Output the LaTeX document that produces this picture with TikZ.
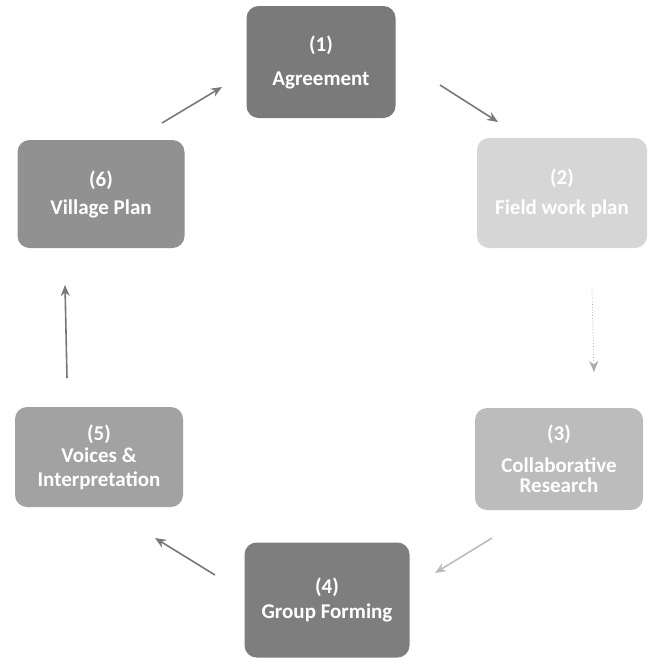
\documentclass[tikz,border=0pt]{standalone}
\usepackage{fontspec}
\setmainfont{Carlito}
\usetikzlibrary{arrows.meta}
\definecolor{gA}{RGB}{122,122,122}
\definecolor{gB}{RGB}{214,214,214}
\definecolor{gC}{RGB}{188,188,188}
\definecolor{gD}{RGB}{126,126,126}
\definecolor{gE}{RGB}{162,162,162}
\definecolor{gF}{RGB}{145,145,145}
\definecolor{arr}{RGB}{120,120,120}
\tikzset{
  stepbox/.style={rounded corners=12pt, inner sep=0pt, align=center,
    text=white, font=\bfseries\fontsize{21}{22}\selectfont},
  cyc/.style={draw=arr, line width=1.6pt, -{Stealth[length=11pt,width=9pt]}},
}
\begin{document}
\begin{tikzpicture}[x=1pt,y=-1pt]
\useasboundingbox (0,0) rectangle (652,667);
\node[stepbox, fill=gA, minimum width=149pt, minimum height=112pt] (n1) at (321,62) {(1)\\[12pt]Agreement};
\node[stepbox, fill=gB, minimum width=170pt, minimum height=110pt] (n2) at (562,193) {(2)\\[8pt]Field work plan};
\node[stepbox, fill=gC, minimum width=168pt, minimum height=102pt] (n3) at (559,459) {(3)\\[10pt]Collaborative\\[-2pt]Research};
\node[stepbox, fill=gD, minimum width=165pt, minimum height=115pt] (n4) at (327,600) {(4)\\[3pt]Group Forming};
\node[stepbox, fill=gE, minimum width=168pt, minimum height=100pt] (n5) at (99,457) {(5)\\Voices \&\\[2pt]Interpretation};
\node[stepbox, fill=gF, minimum width=167pt, minimum height=108pt] (n6) at (101,194) {(6)\\[6pt]Village Plan};
\coordinate (a1s) at (440,85); \coordinate (a1e) at (498,122);
\coordinate (a2s) at (592,290); \coordinate (a2e) at (594,372);
\coordinate (a3s) at (492,538); \coordinate (a3e) at (435,573);
\coordinate (a4s) at (215,575); \coordinate (a4e) at (155,538);
\coordinate (a5s) at (67,378); \coordinate (a5e) at (65,285);
\coordinate (a6s) at (162,123); \coordinate (a6e) at (222,87);
\draw[cyc] (a1s) -- (a1e);
\draw[cyc, draw=gB!80!black, line width=0.8pt, dotted] (a2s) -- (a2e);
\draw[cyc, draw=gC] (a3s) -- (a3e);
\draw[cyc] (a4s) -- (a4e);
\draw[cyc] (a5s) -- (a5e);
\draw[cyc] (a6s) -- (a6e);
\end{tikzpicture}
\end{document}
